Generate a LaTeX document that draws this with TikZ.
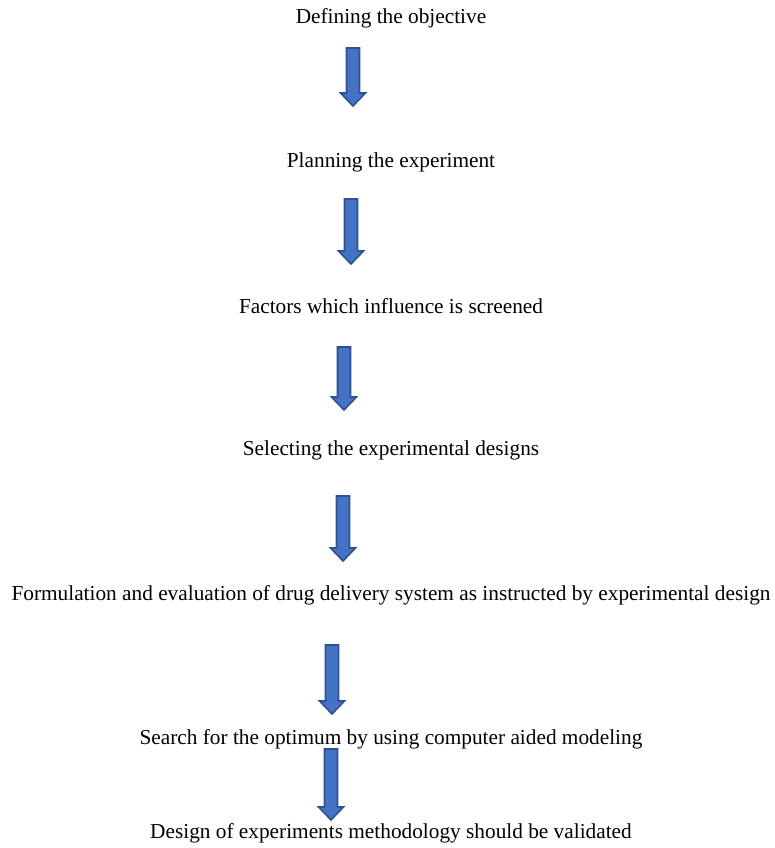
\documentclass[tikz,border=0pt]{standalone}
\usepackage{fontspec}
\setmainfont{Liberation Serif}
\definecolor{arrfill}{HTML}{4472C4}
\definecolor{arrdraw}{HTML}{2F528F}
\tikzset{
  lbl/.style={inner sep=0pt, font=\fontsize{21.3}{24}\selectfont, anchor=center},
  blockarr/.style={fill=arrfill, draw=arrdraw, line width=1.6pt, line join=miter}
}
\newcommand{\blkarrow}[3]{% x, top, tip
  \draw[blockarr] (#1-6.5,#2) -- (#1+6.5,#2) -- (#1+6.5,#3-13) -- (#1+12.5,#3-13) -- (#1,#3) -- (#1-12.5,#3-13) -- (#1-6.5,#3-13) -- cycle;}
\begin{document}
\begin{tikzpicture}[x=1pt,y=-1pt]
\useasboundingbox (0,0) rectangle (774,848);
\node[lbl] (t1) at (391,18) {Defining the objective};
\node[lbl] (t2) at (391,162) {Planning the experiment};
\node[lbl] (t3) at (391,306) {Factors which influence is screened};
\node[lbl] (t4) at (391,450) {Selecting the experimental designs};
\node[lbl] (t5) at (391,595) {Formulation and evaluation of drug delivery system as instructed by experimental design};
\node[lbl] (t6) at (391,739) {Search for the optimum by using computer aided modeling};
\node[lbl] (t7) at (391,833) {Design of experiments methodology should be validated};
\blkarrow{353}{48}{106}
\blkarrow{351}{199}{264}
\blkarrow{344}{347}{410}
\blkarrow{343}{496}{561}
\blkarrow{332}{645}{714}
\blkarrow{331}{749}{820}
\end{tikzpicture}
\end{document}
